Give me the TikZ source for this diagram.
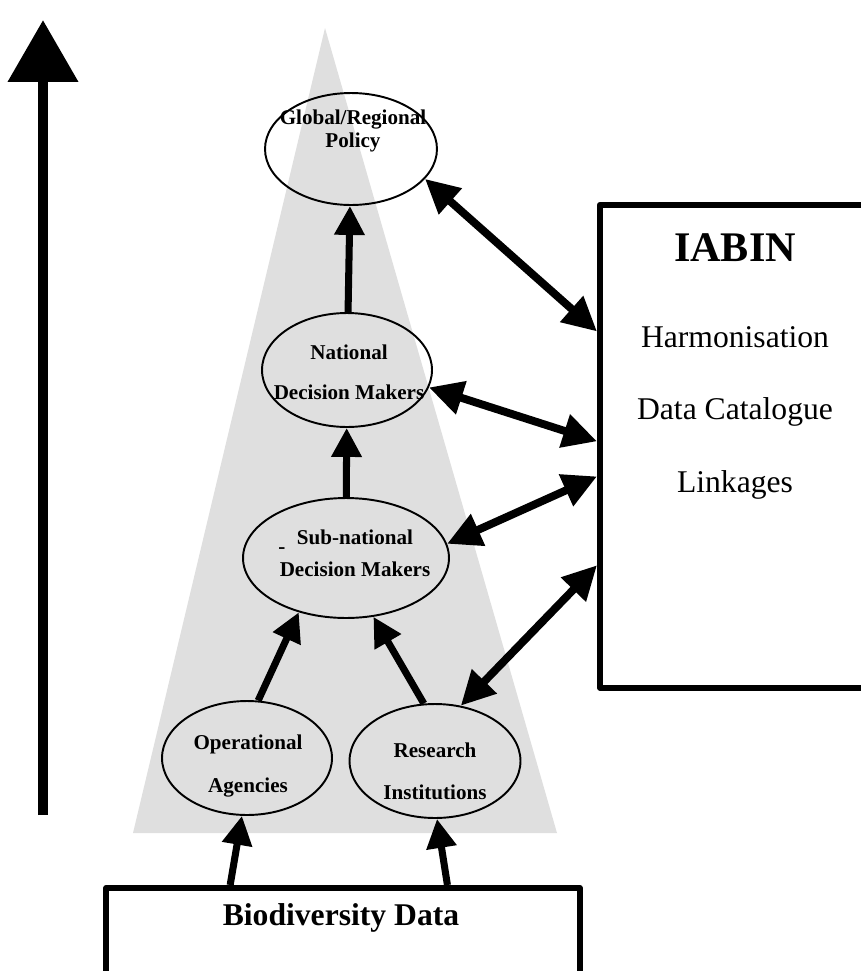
\documentclass[tikz,border=0pt]{standalone}
\usepackage{fontspec}
\setmainfont{Liberation Serif}
\usepackage{tikz}
\usetikzlibrary{arrows.meta,shapes.geometric}

\begin{document}
\begin{tikzpicture}[x=0.02cm, y=-0.02cm,
  oval/.style={ellipse, draw, line width=1.1pt, inner sep=0pt, minimum width=3.4cm, minimum height=2.28cm},
  lbl/.style={font=\bfseries\fontsize{12}{23}\selectfont, align=center, inner sep=0pt},
  arr/.style={line width=4pt, -{Triangle[length=0.58cm,width=0.58cm]}},
  dbl/.style={line width=4.5pt, {Triangle[length=0.68cm,width=0.66cm]}-{Triangle[length=0.68cm,width=0.66cm]}},
  panel/.style={draw, line width=3.2pt, inner sep=0pt, line join=round}]

  \useasboundingbox (0,0) rectangle (860,971);

  \fill[gray!25] (325,28) -- (557,833) -- (133,833) -- cycle;

  \coordinate (trendlo) at (43,815);
  \coordinate (trendhi) at (43,20);
  \draw[line width=6.2pt, -{Triangle[length=1.24cm,width=1.36cm]}] (trendlo) -- (trendhi);

  \node[oval, minimum width=3.44cm, minimum height=2.24cm] (glob) at (351,149) {};
  \node[lbl, font=\bfseries\fontsize{12}{13}\selectfont] (globtxt) at (353,131) {Global/Regional\\Policy};

  \node[oval] (natl) at (347,370) {};
  \node[lbl] (natltxt) at (349,372) {National\\Decision Makers};

  \node[oval, minimum width=4.12cm, minimum height=2.4cm] (sub) at (346,558) {};
  \node[lbl, font=\bfseries\fontsize{12}{18}\selectfont] (subtxt) at (355,553) {Sub-national\\Decision Makers};
  \node[lbl] (dashmark) at (282,551) {-};

  \node[oval] (oper) at (247,758) {};
  \node[lbl, font=\bfseries\fontsize{12}{24}\selectfont] (opertxt) at (248,766) {Operational\\Agencies};

  \node[oval, minimum width=3.42cm] (res) at (435,761) {};
  \node[lbl, font=\bfseries\fontsize{12}{24}\selectfont] (restxt) at (435,771) {Research\\Institutions};

  \node[panel, anchor=north west, minimum width=5.56cm, minimum height=9.66cm] (iabin) at (597,202) {};
  \node[font=\bfseries\fontsize{24}{28}\selectfont] (iabintxt) at (735,248) {IABIN};
  \node[font=\fontsize{18}{22}\selectfont] (harm) at (735,337) {Harmonisation};
  \node[font=\fontsize{18}{22}\selectfont] (cat) at (735,412) {Data Catalogue};
  \node[font=\fontsize{18}{22}\selectfont] (link) at (735,485) {Linkages};

  \node[panel, anchor=north, minimum width=9.48cm, minimum height=2.6cm] (data) at (343,885) {};
  \node[font=\bfseries\fontsize{18}{22}\selectfont] (datatxt) at (341,918) {Biodiversity Data};

  \draw[arr] (natl) -- (glob);
  \draw[arr] (sub) -- (natl);
  \draw[arr] (oper.79.5) -- (sub.-131);
  \draw[arr] (res.101) -- (sub.-65);
  \draw[arr] (data.149.6) -- (oper.-95);
  \draw[arr] (data.33) -- (res.-88);

  \draw[dbl] (glob.-22.5) -- (iabin.141.5);
  \draw[dbl] (natl.-12.5) -- (iabin.178.6);
  \draw[dbl] (sub.8.6) -- (iabin.192);
  \draw[dbl] (res.65) -- (iabin.220);
\end{tikzpicture}
\end{document}
